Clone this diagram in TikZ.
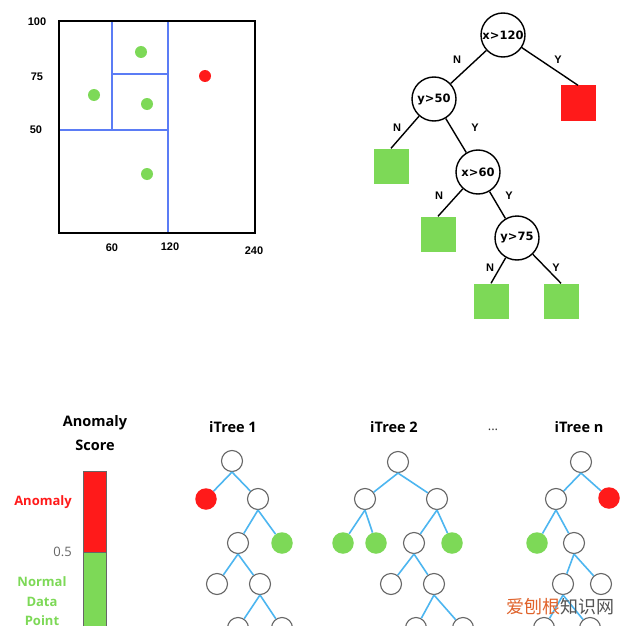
\documentclass[tikz,border=0pt]{standalone}
\usepackage{fontspec}
\setmainfont{Open Sans}
\newfontfamily\dejavu{DejaVu Sans}
\newfontfamily\libsans{Liberation Sans}
\newfontfamily\cjk{Noto Sans CJK SC}
\definecolor{rd}{HTML}{FF1A1A}
\definecolor{gn}{HTML}{7DD957}
\definecolor{pb}{HTML}{5B7CF5}
\definecolor{eb}{HTML}{4DB6F0}
\definecolor{ng}{HTML}{666666}
\definecolor{wmorange}{HTML}{E0622A}
\definecolor{wmgray}{HTML}{555555}
\begin{document}
\begin{tikzpicture}[x=1pt,y=-1pt,
  axlbl/.style={font=\libsans\bfseries\fontsize{11}{13}\selectfont, inner sep=0},
  dnode/.style={circle, draw, line width=1.4pt, minimum size=44pt, inner sep=0, font=\dejavu\bfseries\fontsize{11.5}{13}\selectfont},
  leafg/.style={fill=gn, minimum size=35pt, inner sep=0},
  leafr/.style={fill=rd, minimum size=35pt, inner sep=0},
  yn/.style={font=\libsans\bfseries\fontsize{11}{13}\selectfont, inner sep=0},
  tedge/.style={line width=1.4pt},
  tn/.style={circle, draw=ng, line width=1.1pt, minimum size=21pt, inner sep=0},
  gdot/.style={circle, fill=gn, minimum size=21.5pt, inner sep=0},
  rdot/.style={circle, fill=rd, minimum size=21.5pt, inner sep=0},
  bedge/.style={draw=eb, line width=1.6pt},
  ttl/.style={font=\bfseries\fontsize{14.5}{17}\selectfont, inner sep=0},
  side/.style={font=\bfseries\fontsize{13}{15}\selectfont, inner sep=0},
  pdot/.style={circle, minimum size=12pt, inner sep=0}
]
\useasboundingbox (0,0) rectangle (640,626);
\clip (0,0) rectangle (640,626);
\fill[white] (0,0) rectangle (640,626);

% ---------- partition plot ----------
\draw[pb, line width=1.5pt] (112,21) -- (112,130);
\draw[pb, line width=1.5pt] (168,21) -- (168,233);
\draw[pb, line width=1.5pt] (59,130) -- (168,130);
\draw[pb, line width=1.5pt] (112,74) -- (168,74);
\draw[line width=2pt] (59,21) rectangle (255,233);
\node[pdot, fill=gn] (p1) at (141,52) {};
\node[pdot, fill=gn] (p2) at (94,95) {};
\node[pdot, fill=gn] (p3) at (147,104) {};
\node[pdot, fill=gn] (p4) at (147,174) {};
\node[pdot, fill=rd] (p5) at (205,76) {};
\node[axlbl] (l100) at (37,22) {100};
\node[axlbl] (l75) at (37,77) {75};
\node[axlbl] (l50) at (36,130) {50};
\node[axlbl] (l60) at (112,248) {60};
\node[axlbl] (l120) at (170,247) {120};
\node[axlbl] (l240) at (254,251) {240};

% ---------- decision tree ----------
\node[dnode] (r) at (503,35) {x>120};
\node[dnode] (a) at (434,99) {y>50};
\node[leafr] (sr) at (578,103) {};
\node[leafg] (s1) at (391,166) {};
\node[dnode] (b) at (478,172) {x>60};
\node[leafg] (s2) at (438,234) {};
\node[dnode] (c) at (517,238) {y>75};
\node[leafg] (s3) at (491,301) {};
\node[leafg] (s4) at (561,301) {};
\draw[tedge] (r) -- (a);
\draw[tedge] (r) -- (sr.north);
\draw[tedge] (a) -- (s1.north);
\draw[tedge] (a) -- (b);
\draw[tedge] (b) -- (s2.north);
\draw[tedge] (b) -- (c);
\draw[tedge] (c) -- (s3.north);
\draw[tedge] (c) -- (s4.north);
\node[yn] (n1) at (457,60) {N};
\node[yn] (y1) at (558,60) {Y};
\node[yn] (n2) at (397,128) {N};
\node[yn] (y2) at (475,128) {Y};
\node[yn] (n3) at (439,196) {N};
\node[yn] (y3) at (509,196) {Y};
\node[yn] (n4) at (490,268) {N};
\node[yn] (y4) at (556,268) {Y};

% ---------- anomaly score bar ----------
\node[ttl] (as1) at (95,423) {Anomaly};
\node[ttl] (as2) at (95,445) {Score};
\filldraw[fill=rd, draw=ng, line width=0.8pt] (83,471) rectangle (106,552);
\filldraw[fill=gn, draw=ng, line width=0.8pt] (83,552) rectangle (106,640);
\node[side, text=rd, anchor=east] (an) at (72,502) {Anomaly};
\node[font=\fontsize{13}{15}\selectfont, inner sep=0, text=ng, anchor=east] (half) at (72,552) {0.5};
\node[side, text=gn] (nm1) at (42,582) {Normal};
\node[side, text=gn] (nm2) at (42,602) {Data};
\node[side, text=gn] (nm3) at (42,621) {Point};

% ---------- iTree 1 ----------
\node[ttl] (t1) at (233,427) {iTree 1};
\node[tn] (a0) at (232,461) {};
\node[rdot] (a1) at (206,499) {};
\node[tn] (a2) at (258,499) {};
\node[tn] (a3) at (238,543) {};
\node[gdot] (a4) at (282,543) {};
\node[tn] (a5) at (217,584) {};
\node[tn] (a6) at (260,584) {};
\node[tn] (a7) at (238,628) {};
\node[tn] (a8) at (282,628) {};
\draw[bedge] (a0.south) -- (a1);
\draw[bedge] (a0.south) -- (a2);
\draw[bedge] (a2.south) -- (a3);
\draw[bedge] (a2.south) -- (a4);
\draw[bedge] (a3.south) -- (a5);
\draw[bedge] (a3.south) -- (a6);
\draw[bedge] (a6.south) -- (a7);
\draw[bedge] (a6.south) -- (a8);

% ---------- iTree 2 ----------
\node[ttl] (t2) at (394,427) {iTree 2};
\node[tn] (b0) at (398,462) {};
\node[tn] (b1) at (365,499) {};
\node[tn] (b2) at (437,499) {};
\node[gdot] (b3) at (343,543) {};
\node[gdot] (b4) at (376,543) {};
\node[tn] (b5) at (414,543) {};
\node[gdot] (b6) at (452,543) {};
\node[tn] (b7) at (391,584) {};
\node[tn] (b8) at (434,584) {};
\node[tn] (b9) at (416,628) {};
\node[tn] (b10) at (463,628) {};
\draw[bedge] (b0.south) -- (b1);
\draw[bedge] (b0.south) -- (b2);
\draw[bedge] (b1.south) -- (b3);
\draw[bedge] (b1.south) -- (b4);
\draw[bedge] (b2.south) -- (b5);
\draw[bedge] (b2.south) -- (b6);
\draw[bedge] (b5.south) -- (b7);
\draw[bedge] (b5.south) -- (b8);
\draw[bedge] (b8.south) -- (b9);
\draw[bedge] (b8.south) -- (b10);

% ---------- iTree n ----------
\node[font=\fontsize{13}{15}\selectfont, text=black!80, inner sep=0] (dots) at (493,430) {...};
\node[ttl] (tn) at (579,427) {iTree n};
\node[tn] (c0) at (581,462) {};
\node[tn] (c1) at (556,499) {};
\node[rdot] (c2) at (609,498) {};
\node[gdot] (c3) at (537,543) {};
\node[tn] (c4) at (574,543) {};
\node[tn] (c5) at (563,584) {};
\node[tn] (c6) at (601,584) {};
\node[tn] (c7) at (544,628) {};
\node[tn] (c8) at (590,628) {};
\draw[bedge] (c0.south) -- (c1);
\draw[bedge] (c0.south) -- (c2);
\draw[bedge] (c1.south) -- (c3);
\draw[bedge] (c1.south) -- (c4);
\draw[bedge] (c4.south) -- (c5);
\draw[bedge] (c4.south) -- (c6);
\draw[bedge] (c5.south) -- (c7);
\draw[bedge] (c5.south) -- (c8);

% ---------- watermark ----------
\node[font=\cjk\fontsize{18}{20}\selectfont, inner sep=0] (wm) at (560,607) {\textcolor{wmorange}{爱刨根}\textcolor{wmgray}{知识网}};
\end{tikzpicture}
\end{document}
